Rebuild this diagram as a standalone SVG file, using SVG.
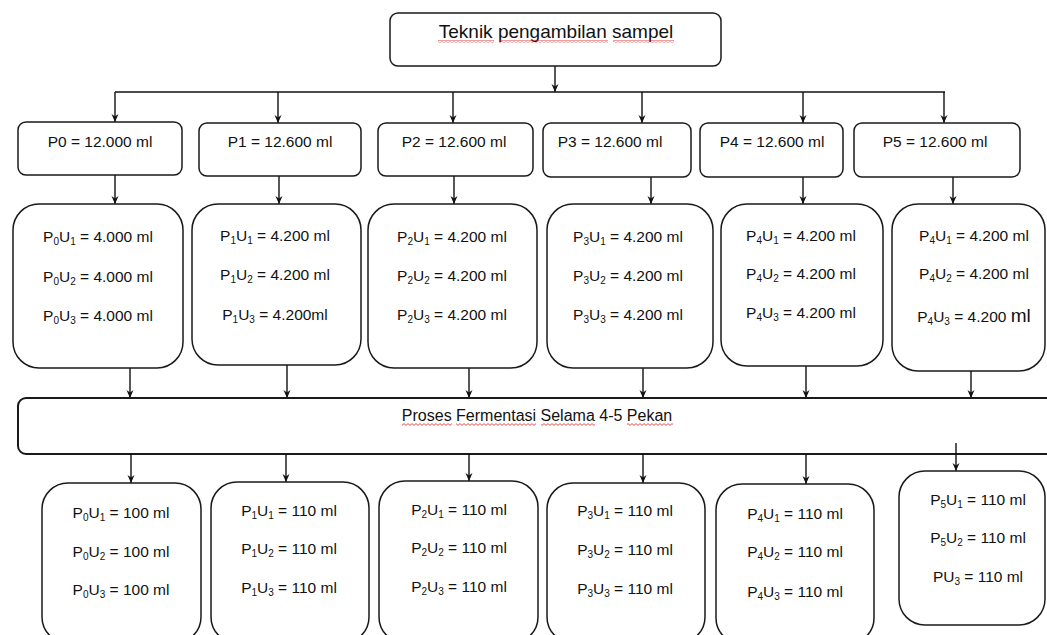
<svg xmlns="http://www.w3.org/2000/svg" width="1047" height="635" viewBox="0 0 1047 635">
<style>
.bx{fill:#fff;stroke:#1a1a1a;stroke-width:1.5}
.t{font-family:"Liberation Sans",Arial,sans-serif;font-size:15.5px;fill:#111;text-anchor:middle}
.sb{font-size:10px}
.ln{stroke:#111;stroke-width:1.4;fill:none}
.ar{stroke:#111;stroke-width:1.4;fill:none;marker-end:url(#ah)}
.sq{fill:url(#wave)}
</style>
<defs>
<marker id="ah" markerUnits="userSpaceOnUse" markerWidth="9" markerHeight="9" refX="8" refY="4" orient="auto">
<path d="M0,0.5 L8,4 L0,7.5 L2.5,4 z" fill="#111"/>
</marker>
<pattern id="wave" width="4" height="3" patternUnits="userSpaceOnUse">
<path d="M0,0.6 L2,2.4 L4,0.6" fill="none" stroke="#e02020" stroke-width="0.8"/>
</pattern>
</defs>

<g id="connectors">
<line class="ar" x1="555" y1="66" x2="555" y2="92"/>
<line class="ln" x1="115" y1="92" x2="945" y2="92"/>
<line class="ar" x1="115" y1="92" x2="115" y2="122"/>
<line class="ar" x1="278" y1="92" x2="278" y2="123"/>
<line class="ar" x1="453" y1="92" x2="453" y2="123"/>
<line class="ar" x1="642" y1="92" x2="642" y2="123"/>
<line class="ar" x1="803" y1="92" x2="803" y2="123"/>
<line class="ar" x1="944" y1="92" x2="944" y2="123"/>
<line class="ar" x1="115" y1="175" x2="115" y2="204"/>
<line class="ar" x1="279" y1="176" x2="279" y2="204"/>
<line class="ar" x1="454" y1="176" x2="454" y2="204"/>
<line class="ar" x1="651" y1="177" x2="651" y2="204"/>
<line class="ar" x1="803" y1="177" x2="803" y2="204"/>
<line class="ar" x1="953" y1="177" x2="953" y2="204"/>
<line class="ar" x1="130" y1="368" x2="130" y2="398"/>
<line class="ar" x1="287" y1="365" x2="287" y2="398"/>
<line class="ar" x1="469" y1="368" x2="469" y2="398"/>
<line class="ar" x1="643" y1="368" x2="643" y2="398"/>
<line class="ar" x1="806" y1="366" x2="806" y2="398"/>
<line class="ar" x1="971" y1="371" x2="971" y2="398"/>
</g>

<g id="title">
<rect class="bx" x="390" y="13" width="331" height="53" rx="8"/>
<text class="t" x="556" y="38" style="font-size:19px">Teknik pengambilan sampel</text>
<rect class="sq" x="438" y="40" width="56" height="3"/>
<rect class="sq" x="499" y="40" width="109" height="3"/>
<rect class="sq" x="613" y="40" width="61" height="3"/>
</g>

<g id="p0"><rect class="bx" x="18" y="122" width="164" height="53" rx="8"/><text class="t" x="100" y="147">P0 = 12.000 ml</text></g>
<g id="p1"><rect class="bx" x="199" y="123" width="162" height="53" rx="8"/><text class="t" x="280" y="147">P1 = 12.600 ml</text></g>
<g id="p2"><rect class="bx" x="378" y="123" width="155" height="53" rx="8"/><text class="t" x="454" y="147">P2 = 12.600 ml</text></g>
<g id="p3"><rect class="bx" x="543" y="123" width="148" height="54" rx="8"/><text class="t" x="610" y="147">P3 = 12.600 ml</text></g>
<g id="p4"><rect class="bx" x="700" y="123" width="143" height="54" rx="8"/><text class="t" x="772" y="147">P4 = 12.600 ml</text></g>
<g id="p5"><rect class="bx" x="854" y="123" width="166" height="54" rx="8"/><text class="t" x="935" y="147">P5 = 12.600 ml</text></g>

<g id="p0u">
<rect class="bx" x="13" y="204" width="170" height="164" rx="26"/>
<text class="t" x="98" y="242">P<tspan class="sb" dy="3">0</tspan><tspan dy="-3">U</tspan><tspan class="sb" dy="3">1</tspan><tspan dy="-3"> = 4.000 ml</tspan></text>
<text class="t" x="98" y="282">P<tspan class="sb" dy="3">0</tspan><tspan dy="-3">U</tspan><tspan class="sb" dy="3">2</tspan><tspan dy="-3"> = 4.000 ml</tspan></text>
<text class="t" x="98" y="321">P<tspan class="sb" dy="3">0</tspan><tspan dy="-3">U</tspan><tspan class="sb" dy="3">3</tspan><tspan dy="-3"> = 4.000 ml</tspan></text>
</g>
<g id="p1u">
<rect class="bx" x="192" y="204" width="169" height="161" rx="26"/>
<text class="t" x="275" y="241">P<tspan class="sb" dy="3">1</tspan><tspan dy="-3">U</tspan><tspan class="sb" dy="3">1</tspan><tspan dy="-3"> = 4.200 ml</tspan></text>
<text class="t" x="275" y="280">P<tspan class="sb" dy="3">1</tspan><tspan dy="-3">U</tspan><tspan class="sb" dy="3">2</tspan><tspan dy="-3"> = 4.200 ml</tspan></text>
<text class="t" x="275" y="320">P<tspan class="sb" dy="3">1</tspan><tspan dy="-3">U</tspan><tspan class="sb" dy="3">3</tspan><tspan dy="-3"> = 4.200ml</tspan></text>
</g>
<g id="p2u">
<rect class="bx" x="368" y="204" width="169" height="164" rx="26"/>
<text class="t" x="452" y="242">P<tspan class="sb" dy="3">2</tspan><tspan dy="-3">U</tspan><tspan class="sb" dy="3">1</tspan><tspan dy="-3"> = 4.200 ml</tspan></text>
<text class="t" x="452" y="281">P<tspan class="sb" dy="3">2</tspan><tspan dy="-3">U</tspan><tspan class="sb" dy="3">2</tspan><tspan dy="-3"> = 4.200 ml</tspan></text>
<text class="t" x="452" y="320">P<tspan class="sb" dy="3">2</tspan><tspan dy="-3">U</tspan><tspan class="sb" dy="3">3</tspan><tspan dy="-3"> = 4.200 ml</tspan></text>
</g>
<g id="p3u">
<rect class="bx" x="547" y="204" width="166" height="164" rx="26"/>
<text class="t" x="628" y="242">P<tspan class="sb" dy="3">3</tspan><tspan dy="-3">U</tspan><tspan class="sb" dy="3">1</tspan><tspan dy="-3"> = 4.200 ml</tspan></text>
<text class="t" x="628" y="281">P<tspan class="sb" dy="3">3</tspan><tspan dy="-3">U</tspan><tspan class="sb" dy="3">2</tspan><tspan dy="-3"> = 4.200 ml</tspan></text>
<text class="t" x="628" y="320">P<tspan class="sb" dy="3">3</tspan><tspan dy="-3">U</tspan><tspan class="sb" dy="3">3</tspan><tspan dy="-3"> = 4.200 ml</tspan></text>
</g>
<g id="p4u">
<rect class="bx" x="721" y="204" width="162" height="162" rx="26"/>
<text class="t" x="801" y="241">P<tspan class="sb" dy="3">4</tspan><tspan dy="-3">U</tspan><tspan class="sb" dy="3">1</tspan><tspan dy="-3"> = 4.200 ml</tspan></text>
<text class="t" x="801" y="279">P<tspan class="sb" dy="3">4</tspan><tspan dy="-3">U</tspan><tspan class="sb" dy="3">2</tspan><tspan dy="-3"> = 4.200 ml</tspan></text>
<text class="t" x="801" y="318">P<tspan class="sb" dy="3">4</tspan><tspan dy="-3">U</tspan><tspan class="sb" dy="3">3</tspan><tspan dy="-3"> = 4.200 ml</tspan></text>
</g>
<g id="p5u">
<rect class="bx" x="892" y="204" width="153" height="167" rx="26"/>
<text class="t" x="974" y="241">P<tspan class="sb" dy="3">4</tspan><tspan dy="-3">U</tspan><tspan class="sb" dy="3">1</tspan><tspan dy="-3"> = 4.200 ml</tspan></text>
<text class="t" x="974" y="279">P<tspan class="sb" dy="3">4</tspan><tspan dy="-3">U</tspan><tspan class="sb" dy="3">2</tspan><tspan dy="-3"> = 4.200 ml</tspan></text>
<text class="t" x="974" y="322">P<tspan class="sb" dy="3">4</tspan><tspan dy="-3">U</tspan><tspan class="sb" dy="3">3</tspan><tspan dy="-3"> = 4.200 </tspan><tspan style="font-size:19px">ml</tspan></text>
</g>

<g id="fermentasi">
<rect class="bx" x="18" y="398" width="1070" height="56" rx="8" style="stroke-width:2"/>
<text class="t" x="537" y="421" style="font-size:16px">Proses Fermentasi Selama 4-5 Pekan</text>
<rect class="sq" x="402" y="423" width="50" height="3"/>
<rect class="sq" x="456" y="423" width="80" height="3"/>
<rect class="sq" x="541" y="423" width="54" height="3"/>
<rect class="sq" x="627" y="423" width="46" height="3"/>
</g>

<g id="connectors-bottom">
<line class="ar" x1="131" y1="454" x2="131" y2="483"/>
<line class="ar" x1="286" y1="454" x2="286" y2="482"/>
<line class="ar" x1="469" y1="454" x2="469" y2="481"/>
<line class="ar" x1="643" y1="454" x2="643" y2="483"/>
<line class="ar" x1="806" y1="454" x2="806" y2="484"/>
<line class="ar" x1="956" y1="443" x2="956" y2="471"/>
</g>

<g id="p0h">
<rect class="bx" x="42" y="483" width="159" height="160" rx="26"/>
<text class="t" x="121" y="518">P<tspan class="sb" dy="3">0</tspan><tspan dy="-3">U</tspan><tspan class="sb" dy="3">1</tspan><tspan dy="-3"> = 100 ml</tspan></text>
<text class="t" x="121" y="557">P<tspan class="sb" dy="3">0</tspan><tspan dy="-3">U</tspan><tspan class="sb" dy="3">2</tspan><tspan dy="-3"> = 100 ml</tspan></text>
<text class="t" x="121" y="595">P<tspan class="sb" dy="3">0</tspan><tspan dy="-3">U</tspan><tspan class="sb" dy="3">3</tspan><tspan dy="-3"> = 100 ml</tspan></text>
</g>
<g id="p1h">
<rect class="bx" x="211" y="482" width="158" height="161" rx="26"/>
<text class="t" x="289" y="516">P<tspan class="sb" dy="3">1</tspan><tspan dy="-3">U</tspan><tspan class="sb" dy="3">1</tspan><tspan dy="-3"> = 110 ml</tspan></text>
<text class="t" x="289" y="554">P<tspan class="sb" dy="3">1</tspan><tspan dy="-3">U</tspan><tspan class="sb" dy="3">2</tspan><tspan dy="-3"> = 110 ml</tspan></text>
<text class="t" x="289" y="593">P<tspan class="sb" dy="3">1</tspan><tspan dy="-3">U</tspan><tspan class="sb" dy="3">3</tspan><tspan dy="-3"> = 110 ml</tspan></text>
</g>
<g id="p2h">
<rect class="bx" x="379" y="481" width="159" height="162" rx="26"/>
<text class="t" x="459" y="515">P<tspan class="sb" dy="3">2</tspan><tspan dy="-3">U</tspan><tspan class="sb" dy="3">1</tspan><tspan dy="-3"> = 110 ml</tspan></text>
<text class="t" x="459" y="553">P<tspan class="sb" dy="3">2</tspan><tspan dy="-3">U</tspan><tspan class="sb" dy="3">2</tspan><tspan dy="-3"> = 110 ml</tspan></text>
<text class="t" x="459" y="592">P<tspan class="sb" dy="3">2</tspan><tspan dy="-3">U</tspan><tspan class="sb" dy="3">3</tspan><tspan dy="-3"> = 110 ml</tspan></text>
</g>
<g id="p3h">
<rect class="bx" x="547" y="483" width="158" height="160" rx="26"/>
<text class="t" x="625" y="516">P<tspan class="sb" dy="3">3</tspan><tspan dy="-3">U</tspan><tspan class="sb" dy="3">1</tspan><tspan dy="-3"> = 110 ml</tspan></text>
<text class="t" x="625" y="555">P<tspan class="sb" dy="3">3</tspan><tspan dy="-3">U</tspan><tspan class="sb" dy="3">2</tspan><tspan dy="-3"> = 110 ml</tspan></text>
<text class="t" x="625" y="594">P<tspan class="sb" dy="3">3</tspan><tspan dy="-3">U</tspan><tspan class="sb" dy="3">3</tspan><tspan dy="-3"> = 110 ml</tspan></text>
</g>
<g id="p4h">
<rect class="bx" x="716" y="484" width="158" height="160" rx="26"/>
<text class="t" x="795" y="519">P<tspan class="sb" dy="3">4</tspan><tspan dy="-3">U</tspan><tspan class="sb" dy="3">1</tspan><tspan dy="-3"> = 110 ml</tspan></text>
<text class="t" x="795" y="557">P<tspan class="sb" dy="3">4</tspan><tspan dy="-3">U</tspan><tspan class="sb" dy="3">2</tspan><tspan dy="-3"> = 110 ml</tspan></text>
<text class="t" x="795" y="597">P<tspan class="sb" dy="3">4</tspan><tspan dy="-3">U</tspan><tspan class="sb" dy="3">3</tspan><tspan dy="-3"> = 110 ml</tspan></text>
</g>
<g id="p5h">
<rect class="bx" x="899" y="471" width="146" height="154" rx="26"/>
<text class="t" x="978" y="505">P<tspan class="sb" dy="3">5</tspan><tspan dy="-3">U</tspan><tspan class="sb" dy="3">1</tspan><tspan dy="-3"> = 110 ml</tspan></text>
<text class="t" x="978" y="543">P<tspan class="sb" dy="3">5</tspan><tspan dy="-3">U</tspan><tspan class="sb" dy="3">2</tspan><tspan dy="-3"> = 110 ml</tspan></text>
<text class="t" x="978" y="582">PU<tspan class="sb" dy="3">3</tspan><tspan dy="-3"> = 110 ml</tspan></text>
</g>
</svg>
